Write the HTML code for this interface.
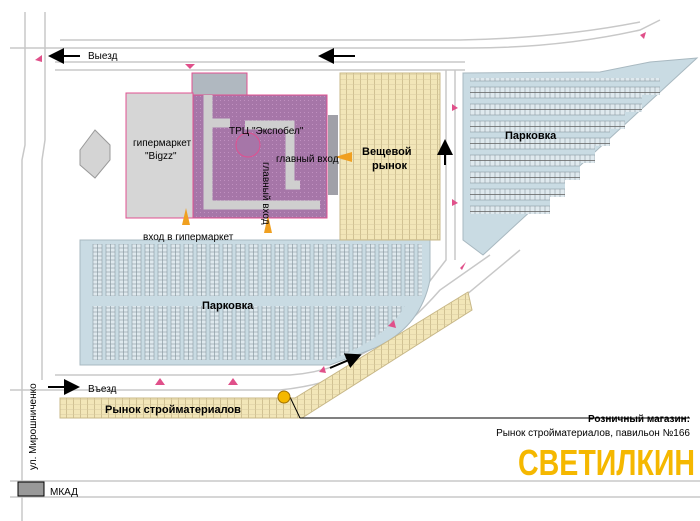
<!DOCTYPE html>
<html><head><meta charset="utf-8"><style>
html,body{margin:0;padding:0;background:#fff}
svg{display:block}
text{font-family:"Liberation Sans",sans-serif}
</style></head><body>
<svg width="700" height="521" viewBox="0 0 700 521" xmlns="http://www.w3.org/2000/svg">
<defs>
<pattern id="vcol" width="13" height="4" patternUnits="userSpaceOnUse">
<rect width="13" height="4" fill="#c9dbe3"/><rect x="2" y="0" width="9" height="4" fill="#dfe9ee" stroke="#8a9aa2" stroke-width="0.6"/><line x1="6.5" y1="0" x2="6.5" y2="4" stroke="#8a9aa2" stroke-width="0.7"/>
</pattern>
<pattern id="hrow" width="5" height="17" patternUnits="userSpaceOnUse">
<rect width="5" height="17" fill="#c9dbe3"/><rect x="0" y="2" width="5" height="11" fill="#dfe9ee" stroke="#8a9aa2" stroke-width="0.6"/><line x1="0" y1="7.5" x2="5" y2="7.5" stroke="#666" stroke-width="0.8"/>
</pattern>
<pattern id="ystall" width="7" height="5" patternUnits="userSpaceOnUse">
<rect width="7" height="5" fill="#f2e6b8"/><line x1="3.5" y1="0" x2="3.5" y2="5" stroke="#c8b888" stroke-width="0.8"/><line x1="0" y1="4.5" x2="7" y2="4.5" stroke="#d8caa0" stroke-width="0.5"/>
</pattern>
<pattern id="purp" width="4" height="4" patternUnits="userSpaceOnUse"><rect width="4" height="4" fill="#a676a8"/><rect width="1" height="1" fill="#c090c0"/></pattern>
<marker id="ah" markerWidth="8" markerHeight="8" refX="6" refY="4" orient="auto"><path d="M0,0 L8,4 L0,8 Z" fill="#000"/></marker>
</defs>
<g fill="none" stroke="#c8c8c8" stroke-width="1.5">
<path d="M25,12 V145 L22,160 V521"/><path d="M45,12 V140 L42,160 V380"/>
<path d="M10,48 H470 Q560,48 640,30 L660,20"/><path d="M55,62 H465"/><path d="M55,70 H465"/>
<path d="M60,40 H460 Q560,38 640,22"/>
<path d="M10,481 H700"/><path d="M10,497 H700"/>
<path d="M10,390 H280 Q380,380 460,300 L520,250"/><path d="M55,375 H290 Q370,370 440,290 L490,255"/>
<path d="M446,70 V260 L400,320"/><path d="M455,70 V260"/>
</g>
<polygon points="463,73 600,72 650,62 697,58 483,255 463,240" fill="#c9dbe3" stroke="#a8b8c0"/>
<g fill="url(#hrow)">
<rect x="470" y="78" width="190" height="17"/><rect x="470" y="95" width="172" height="17"/><rect x="470" y="112" width="155" height="17"/><rect x="470" y="129" width="140" height="17"/><rect x="470" y="146" width="125" height="17"/><rect x="470" y="163" width="110" height="17"/><rect x="470" y="180" width="95" height="17"/><rect x="470" y="197" width="80" height="17"/>
</g>
<path d="M80,240 H430 V280 Q420,330 370,350 L330,365 H80 Z" fill="#c9dbe3" stroke="#a8b8c0"/>
<rect x="90" y="244" width="332" height="52" fill="url(#vcol)"/>
<path d="M90,306 H405 Q385,340 330,360 H90 Z" fill="url(#vcol)"/>
<rect x="340" y="73" width="100" height="167" fill="url(#ystall)" stroke="#c8b888"/>
<path d="M60,398 H295 L468,292 L472,310 L302,418 H60 Z" fill="url(#ystall)" stroke="#c8b888"/>
<polygon points="80,150 95,130 110,145 110,160 95,178 80,165" fill="#d4d4d4" stroke="#999"/>
<rect x="192" y="73" width="55" height="22" fill="#b0b8c0" stroke="#e05090"/>
<rect x="126" y="93" width="67" height="125" fill="#d6d6d6" stroke="#e05090"/>
<rect x="193" y="95" width="134" height="123" fill="url(#purp)" stroke="#e05090"/>
<path d="M208,95 V205 H320 M245,125 H290 V185 H300 M208,123 H230" stroke="#cfcfcf" stroke-width="9" fill="none"/>
<circle cx="248" cy="145" r="12" fill="#a676a8" stroke="#e05090"/>
<rect x="328" y="115" width="10" height="80" fill="#a0a0a8"/>
<g fill="#f0a020">
<polygon points="335,157 352,152 352,162"/><polygon points="182,225 186,208 190,225"/><polygon points="264,233 268,215 272,233"/>
</g>
<g fill="#e0508a">
<polygon points="185,64 195,64 190,69"/><polygon points="35,60 42,55 42,62"/><polygon points="640,35 646,32 644,39"/>
<polygon points="155,385 160,378 165,385"/><polygon points="228,385 233,378 238,385"/><polygon points="452,111 458,108 452,104"/><polygon points="452,206 458,203 452,199"/><polygon points="460,268 466,262 462,270"/><polygon points="319,372 324,366 326,373"/><polygon points="388,326 394,320 396,328"/>
</g>
<g stroke="#000" stroke-width="2" fill="none">
<line x1="80" y1="56" x2="52" y2="56" marker-end="url(#ah)"/>
<line x1="355" y1="56" x2="322" y2="56" marker-end="url(#ah)"/>
<line x1="445" y1="165" x2="445" y2="143" marker-end="url(#ah)"/>
<line x1="48" y1="387" x2="76" y2="387" marker-end="url(#ah)"/>
<line x1="330" y1="368" x2="358" y2="356" marker-end="url(#ah)"/>
</g>
<line x1="290" y1="397" x2="300" y2="418" stroke="#000"/><line x1="300" y1="418" x2="690" y2="418" stroke="#000"/>
<circle cx="284" cy="397" r="6" fill="#f5b800" stroke="#a07000"/>
<g font-size="10" fill="#000">
<text x="88" y="59">Выезд</text>
<text x="88" y="392">Въезд</text>
<text x="50" y="495">МКАД</text>
<text x="133" y="146">гипермаркет</text>
<text x="145" y="159">"Bigzz"</text>
<text x="229" y="134">ТРЦ "Экспобел"</text>
<text x="276" y="162">главный вход</text>
<text x="143" y="240">вход в гипермаркет</text>
<text x="263" y="162" transform="rotate(90 263 162)">главный вход</text>
<text x="36" y="470" transform="rotate(-90 36 470)">ул. Мирошниченко</text>
<text x="690" y="436" text-anchor="end">Рынок стройматериалов, павильон №166</text>
</g>
<g font-size="11" font-weight="bold" fill="#000">
<text x="362" y="155">Вещевой</text><text x="372" y="169">рынок</text>
<text x="505" y="139">Парковка</text>
<text x="202" y="309">Парковка</text>
<text x="105" y="413">Рынок стройматериалов</text>
<text x="690" y="422" text-anchor="end" font-size="10">Розничный магазин:</text>
</g>
<rect x="18" y="482" width="26" height="14" fill="#999" stroke="#000"/>
<text x="518" y="475" font-size="36" font-weight="bold" fill="#f5b800" textLength="177" lengthAdjust="spacingAndGlyphs">СВЕТИЛКИН</text>
</svg>
</body></html>
